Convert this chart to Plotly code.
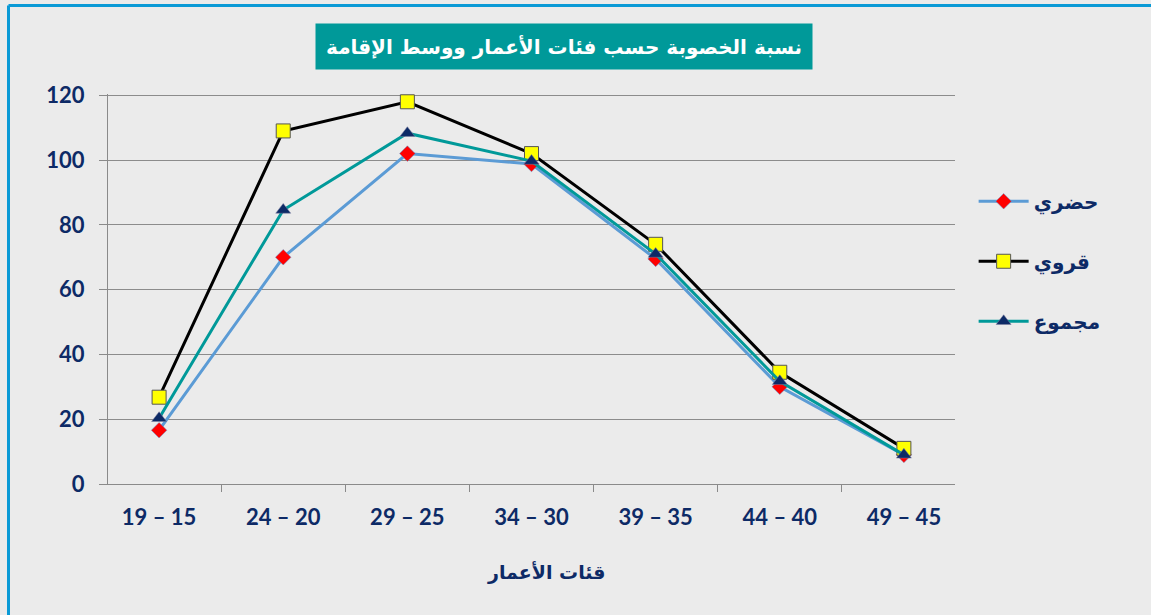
import plotly.graph_objects as go

age_groups = ["19 – 15", "24 – 20", "29 – 25", "34 – 30", "39 – 35", "44 – 40", "49 – 45"]
urban = [16.6, 70.0, 102.0, 98.8, 69.5, 30.0, 9.0]
rural = [26.8, 109.0, 118.0, 102.0, 74.0, 34.5, 11.0]
total = [20.3, 84.6, 108.3, 99.7, 71.0, 31.7, 9.0]

NAVY = "#0d2a66"
FONT = "Lato, DejaVu Sans, sans-serif"
BG = "#ebebeb"
FRAME = "#0a9ad6"

fig = go.Figure()
fig.add_trace(go.Scatter(
    x=age_groups, y=urban, name="حضري", mode="lines+markers",
    line=dict(color="#5b9bd5", width=3),
    marker=dict(symbol="diamond", size=12, color="#ff0000", line=dict(color="#5b9bd5", width=0.5)),
    legendgroup="a",
))
fig.add_trace(go.Scatter(
    x=age_groups, y=rural, name="قروي", mode="lines+markers",
    line=dict(color="#000000", width=3),
    marker=dict(symbol="square", size=14, color="#ffff00", line=dict(color="#555555", width=1)),
    legendgroup="b",
))
fig.add_trace(go.Scatter(
    x=age_groups, y=total, name="مجموع", mode="lines+markers",
    line=dict(color="#009999", width=3),
    marker=dict(symbol="triangle-up", size=13, color="#0d2a66", line=dict(color="#7f7f9f", width=0.5)),
    legendgroup="c",
))

fig.update_layout(
    width=1151,
    height=615,
    margin=dict(l=108, r=196, t=94, b=131),
    paper_bgcolor=BG,
    plot_bgcolor=BG,
    font=dict(family=FONT, color=NAVY),
    showlegend=True,
    legend=dict(
        x=1.022, y=0.775, xanchor="left", yanchor="top",
        bgcolor="rgba(0,0,0,0)",
        font=dict(size=20, color=NAVY, family="DejaVu Sans", weight="bold"),
        tracegroupgap=31,
        traceorder="grouped",
        itemwidth=50,
    ),
    xaxis=dict(
        showgrid=False,
        showline=True, linecolor="#8a8a8a", linewidth=1,
        ticks="outside", tickson="boundaries", ticklen=7, tickcolor="#8a8a8a",
        tickfont=dict(size=22, color=NAVY, family=FONT, weight="bold"),
        ticklabelstandoff=14,
    ),
    yaxis=dict(
        range=[0, 120.4], tickvals=[0, 20, 40, 60, 80, 100, 120],
        showgrid=True, gridcolor="#8c8c8c", gridwidth=1,
        showline=True, linecolor="#8a8a8a", linewidth=1,
        ticks="outside", ticklen=8, tickcolor="#8a8a8a",
        tickfont=dict(size=22, color=NAVY, family=FONT, weight="bold"),
        ticklabelstandoff=10,
        zeroline=False,
    ),
)

# title box
fig.add_annotation(
    xref="paper", yref="paper", x=0.538, y=1.123,
    yanchor="middle",
    text="نسبة الخصوبة حسب فئات الأعمار ووسط الإقامة",
    showarrow=False,
    font=dict(size=20, color="white", family="DejaVu Sans", weight="bold"),
    bgcolor="#009999", borderpad=10,
)

# x axis title
fig.add_annotation(
    xref="paper", yref="paper", x=0.518, y=-0.226,
    yanchor="middle",
    text="قئات الأعمار",
    showarrow=False,
    font=dict(size=19, color=NAVY, family="DejaVu Sans", weight="bold"),
)

# blue frame: only the left and top edges show in the picture
fig.add_shape(
    type="line", xref="paper", yref="paper",
    x0=-99.5 / 847, x1=-99.5 / 847, y0=-0.4, y1=1 + 88.5 / 390,
    line=dict(color=FRAME, width=3), layer="below",
)
fig.add_shape(
    type="line", xref="paper", yref="paper",
    x0=-99.5 / 847, x1=1.4, y0=1 + 88.5 / 390, y1=1 + 88.5 / 390,
    line=dict(color=FRAME, width=3), layer="below",
)

# drop the browser's default body margin so the figure fills the window
fig.write_html(
    "out.html",
    config={"displayModeBar": False},
    post_script="document.body.style.margin='0px';",
)
